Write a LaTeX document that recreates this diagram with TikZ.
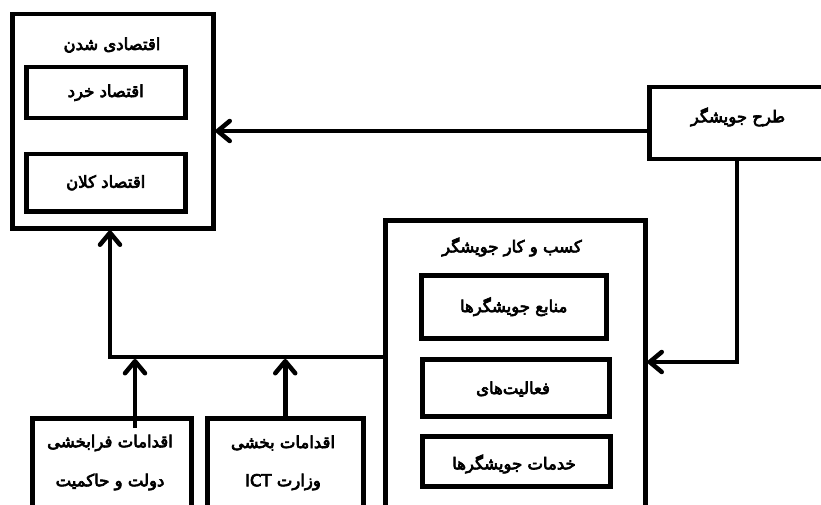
\documentclass[tikz,border=0pt]{standalone}
\usepackage{fontspec}
\newfontfamily\fa[Script=Arabic, FakeBold=4]{DejaVu Sans}
\TeXXeTstate=1
\usetikzlibrary{arrows.meta,calc}
\newcommand{\rl}[1]{\beginR #1\endR}
\begin{document}
\begin{tikzpicture}[x=1pt,y=-1pt,
  box/.style={draw, line width=4.5pt, rectangle, inner sep=0pt, anchor=north west},
  lbl/.style={font=\fa\fontsize{16.5}{20}\selectfont, inner sep=0pt},
  conn/.style={line width=4.5pt, -{Straight Barb[length=12pt,width=20pt,round]}}]
\useasboundingbox (0,0) rectangle (821,505);
\clip (0,0) rectangle (821,505);
% boxes
\node[box, minimum width=201pt, minimum height=214pt] (econ) at (10,12) {};
\node[box, minimum width=159pt, minimum height=51pt] (micro) at (24,65) {};
\node[box, minimum width=159pt, minimum height=57pt] (macro) at (24,152) {};
\node[box, minimum width=183pt, minimum height=72pt] (plan) at (647,85) {};
\node[box, minimum width=260pt, minimum height=302pt] (biz) at (383,218) {};
\node[box, minimum width=185pt, minimum height=63pt] (res) at (419,273) {};
\node[box, minimum width=187pt, minimum height=57pt] (act) at (420,357) {};
\node[box, minimum width=188pt, minimum height=50pt] (serv) at (420,434) {};
\node[box, minimum width=159pt, minimum height=104pt] (gov) at (30,416) {};
\node[box, minimum width=156pt, minimum height=104pt] (ict) at (205,416) {};
% labels
\node[lbl] (econT) at (112,45) {\rl{اقتصادی شدن}};
\node[lbl] (microT) at (micro.center) {\rl{اقتصاد خرد}};
\node[lbl] (macroT) at (macro.center) {\rl{اقتصاد کلان}};
\node[lbl] (planT) at (738,117) {\rl{طرح جویشگر}};
\node[lbl] (bizT) at (512,247) {\rl{کسب و کار جویشگر}};
\node[lbl] (resT) at (res.center) {\rl{منابع جویشگرها}};
\node[lbl] (actT) at (513,389) {\rl{فعالیت‌های}};
\node[lbl] (servT) at (514,464) {\rl{خدمات جویشگرها}};
\node[lbl] (govT1) at (110,443) {\rl{اقدامات فرابخشی}};
\node[lbl] (govT2) at (110,482) {\rl{دولت و حاکمیت}};
\node[lbl] (ictT1) at (283,443) {\rl{اقدامات بخشی}};
\node[lbl] (ictT2) at (283,482) {\rl{وزارت \beginL ICT\endL}};
% connectors
\coordinate (p1) at (647,131);
\draw[conn] (p1) -- (p1 -| econ.east);
\coordinate (c2) at (737,362);
\draw[conn] (plan.south -| c2) -- (c2) -- (c2 -| biz.east);
\coordinate (c3) at (110,357);
\draw[conn, line join=miter] (c3 -| biz.west) -- (c3) -- (c3 |- econ.south);
\coordinate (g1) at (135,428);
\draw[conn] (g1) -- ($(g1 |- c3)+(0,2)$);
\draw[conn] (ict.north) -- ($(ict.north |- c3)+(0,2)$);
\end{tikzpicture}
\end{document}
